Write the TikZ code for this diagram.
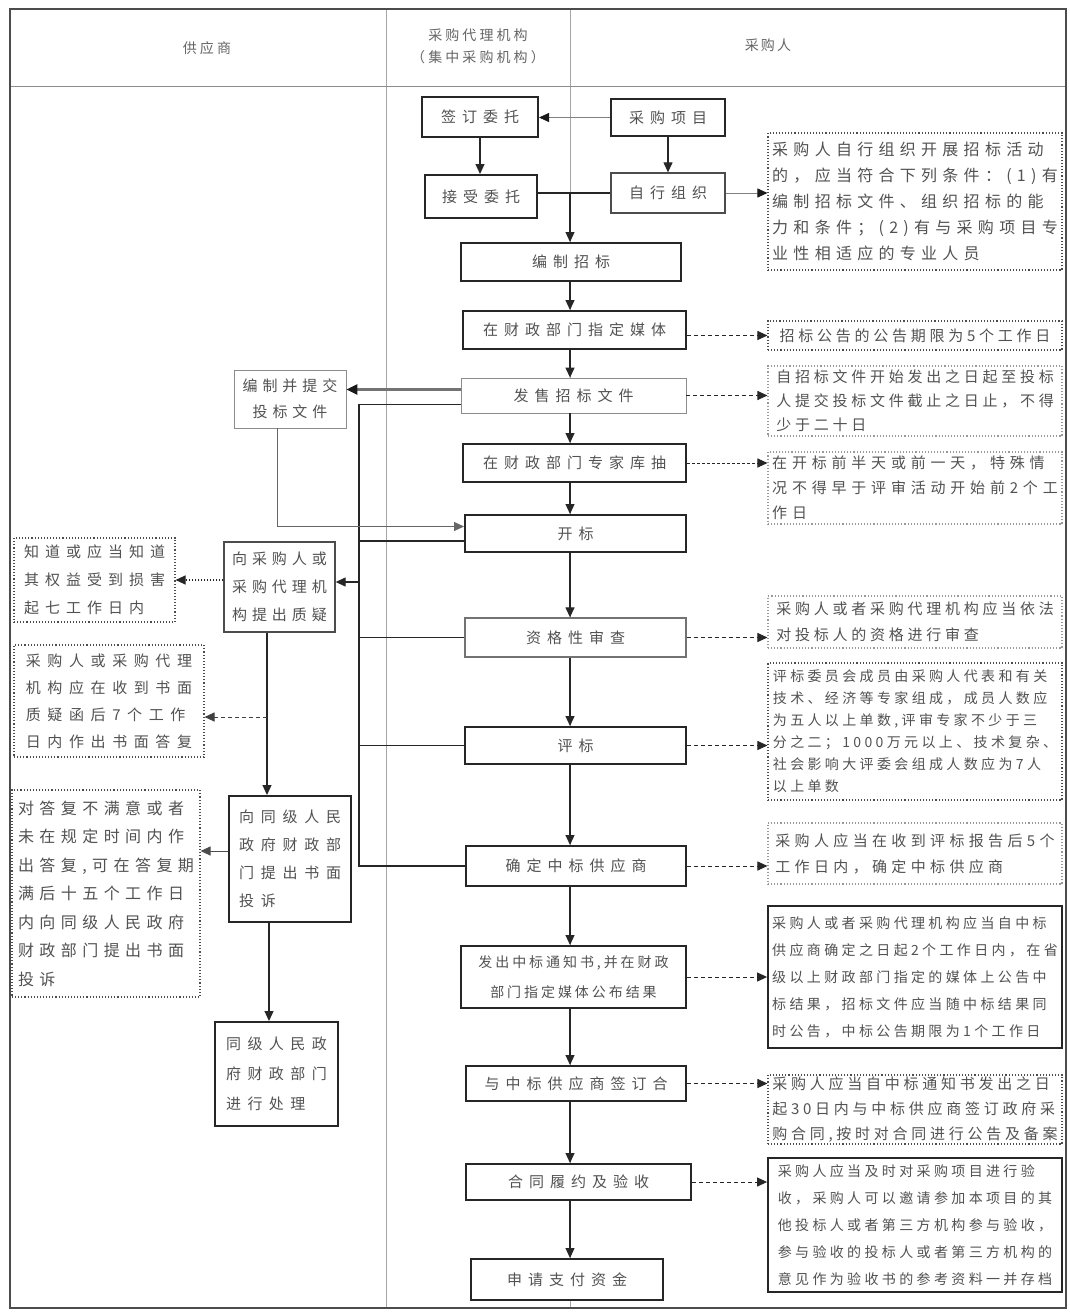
\documentclass[tikz,border=0pt]{standalone}
\usepackage{fontspec}
\setmainfont{Noto Sans CJK SC}
\usetikzlibrary{arrows.meta}
\newcommand\ft[3]{\fontsize{#1}{#2}\selectfont\addfontfeature{LetterSpace=#3}}
\tikzset{
  base/.style={inner sep=0pt, text=black!68, align=center, fill=white},
  bk/.style={base, draw=black!85, line width=2pt, font=\ft{15}{28}{40}},
  bm/.style={base, draw=black!70, line width=1.3pt, font=\ft{15}{28}{40}},
  bt/.style={base, draw=black!45, line width=0.8pt, font=\ft{15}{28}{40}},
  nd/.style={inner sep=0pt, text=black!68, draw=black!70, dotted, line width=1.1pt, align=left, fill=white},
  ndl/.style={nd, draw=black!40},
  ns/.style={inner sep=0pt, text=black!68, draw=black!85, line width=1.8pt, align=left, fill=white},
  hd/.style={inner sep=0pt, text=black!60, align=center, font=\ft{14}{22}{22}},
  arr/.style={draw=black!85, line width=1.2pt, -{Triangle[length=10pt,width=9pt]}},
  arrt/.style={draw=black!50, line width=0.8pt, -{Triangle[length=10pt,width=9pt,color=black!90]}},
  darr/.style={arr, line width=1pt, dash pattern=on 4pt off 3pt},
  dotarr/.style={arr, line width=1.1pt, dash pattern=on 1.5pt off 1.5pt},
  ln/.style={draw=black!85, line width=1.3pt},
  dbl/.style={draw=black!55, line width=2.4pt, -{Triangle[length=11pt,width=10pt,color=black!90]}},
}
\begin{document}
\begin{tikzpicture}[x=1pt,y=-1pt]
\useasboundingbox (0,0) rectangle (1070,1314);
\fill[white] (0,0) rectangle (1070,1314);
% frame and lanes
\draw[black!35, line width=1pt] (386,9) -- (386,1308);
\draw[black!35, line width=1pt] (570,9) -- (570,1308);
\draw[black!45, line width=1pt] (10,86) -- (1066,86);
\draw[black!70, line width=2pt] (10,9) rectangle (1066,1308);
\node[hd] (h1) at (207,48) {供应商};
\node[hd] (h2) at (478,46) {采购代理机构\\（集中采购机构）};
\node[hd, font=\ft{14}{22}{15}] (h3) at (768,45) {采购人};
\coordinate (colx) at (570,0);
\coordinate (bus) at (359,0);

% main boxes
\node[bk, minimum width=116, minimum height=40] (qd) at (480,117) {签订委托};
\node[bk, minimum width=114, minimum height=37] (cgxm) at (668,117.5) {采购项目};
\node[bk, minimum width=112, minimum height=43] (jswt) at (481,196.5) {接受委托};
\node[bm, minimum width=114, minimum height=40] (zxzz) at (668,193) {自行组织};
\node[bk, minimum width=220, minimum height=38] (bzzb) at (571,262) {编制招标};
\node[bk, minimum width=223, minimum height=38] (mt) at (574.5,330) {在财政部门指定媒体};
\node[bt, minimum width=225, minimum height=35] (fs) at (573.5,395.5) {发售招标文件};
\node[bt, minimum width=112, minimum height=58, font=\ft{15}{26}{33}] (tb) at (290,399) {编制并提交\\投标文件};
\node[bk, minimum width=223, minimum height=38] (zj) at (574.5,463) {在财政部门专家库抽};
\node[bk, minimum width=221, minimum height=37] (kb) at (575.5,533.5) {开标};
\node[bm, minimum width=111, minimum height=90, align=left, font=\ft{15}{28}{33}] (zy) at (279.5,587) {向采购人或\\采购代理机\\构提出质疑};
\node[bm, draw=black!55, minimum width=221, minimum height=39] (zg) at (575.5,637.5) {资格性审查};
\node[bk, minimum width=221, minimum height=37] (pb) at (575.5,745.5) {评标};
\node[bk, minimum width=122, minimum height=126, align=left, font=\ft{15}{28}{45}] (ts) at (290,859) {向同级人民\\政府财政部\\门提出书面\\投诉};
\node[bk, minimum width=123, minimum height=104, align=left, font=\ft{15}{30}{43}] (cl) at (276.5,1074) {同级人民政\\府财政部门\\进行处理};
\node[bk, minimum width=220, minimum height=40] (qdzb) at (576,866) {确定中标供应商};
\node[bk, minimum width=225, minimum height=62, font=\ft{14}{30}{21}] (fc) at (573.5,977) {发出中标通知书,并在财政\\部门指定媒体公布结果};
\node[bk, minimum width=220, minimum height=35] (qht) at (576,1083.5) {与中标供应商签订合};
\node[bk, minimum width=225, minimum height=36] (ly) at (578.5,1182) {合同履约及验收};
\node[bk, minimum width=192, minimum height=41] (sq) at (567,1279.5) {申请支付资金};

% notes
\node[nd, minimum width=294, minimum height=137, font=\ft{16}{26}{33}] (n1) at (915,201.5) {采购人自行组织开展招标活动\\的，应当符合下列条件：(1)有\\编制招标文件、组织招标的能\\力和条件；(2)有与采购项目专\\业性相适应的专业人员};
\node[nd, minimum width=294, minimum height=29, font=\ft{15}{24}{25}] (n2) at (915,335.5) {招标公告的公告期限为5个工作日};
\node[ndl, minimum width=294, minimum height=70, font=\ft{15}{24}{25}] (n3) at (915,401) {自招标文件开始发出之日起至投标\\人提交投标文件截止之日止，不得\\少于二十日};
\node[ndl, minimum width=294, minimum height=72, font=\ft{15}{25}{32}] (n4) at (915,488) {在开标前半天或前一天，特殊情\\况不得早于评审活动开始前2个工\\作日};
\node[nd, minimum width=161, minimum height=84, font=\ft{15}{28}{40}] (n5) at (94.5,580) {知道或应当知道\\其权益受到损害\\起七工作日内};
\node[nd, minimum width=190, minimum height=112, font=\ft{15}{27}{44}] (n6) at (109,701) {采购人或采购代理\\机构应在收到书面\\质疑函后7个工作\\日内作出书面答复};
\node[ndl, minimum width=294, minimum height=52, font=\ft{15}{26}{25}] (n7) at (915,622) {采购人或者采购代理机构应当依法\\对投标人的资格进行审查};
\node[nd, minimum width=294, minimum height=137, font=\ft{14}{22}{24}] (n8) at (915,731.5) {评标委员会成员由采购人代表和有关\\技术、经济等专家组成，成员人数应\\为五人以上单数,评审专家不少于三\\分之二；1000万元以上、技术复杂、\\社会影响大评委会组成人数应为7人\\以上单数};
\node[nd, minimum width=188, minimum height=207, font=\ft{16}{28.5}{34}] (n9) at (106,893.5) {对答复不满意或者\\未在规定时间内作\\出答复,可在答复期\\满后十五个工作日\\内向同级人民政府\\财政部门提出书面\\投诉};
\node[ndl, minimum width=294, minimum height=61, font=\ft{15}{26}{29}] (n10) at (915,853.5) {采购人应当在收到评标报告后5个\\工作日内，确定中标供应商};
\node[ns, minimum width=294, minimum height=142, font=\ft{14}{27}{24}] (n11) at (915,977) {采购人或者采购代理机构应当自中标\\供应商确定之日起2个工作日内，在省\\级以上财政部门指定的媒体上公告中\\标结果，招标文件应当随中标结果同\\时公告，中标公告期限为1个工作日};
\node[nd, minimum width=294, minimum height=69, font=\ft{15}{25}{25}] (n12) at (915,1109.5) {采购人应当自中标通知书发出之日\\起30日内与中标供应商签订政府采\\购合同,按时对合同进行公告及备案};
\node[ns, minimum width=294, minimum height=134, font=\ft{14}{27}{24}] (n13) at (915,1225) {采购人应当及时对采购项目进行验\\收，采购人可以邀请参加本项目的其\\他投标人或者第三方机构参与验收，\\参与验收的投标人或者第三方机构的\\意见作为验收书的参考资料一并存档};

% top connectors
\draw[arrt] (cgxm.west) -- (cgxm.west -| qd.east);
\draw[arr] (qd.south) -- (qd.south |- jswt.north);
\draw[arr] (cgxm.south) -- (cgxm.south |- zxzz.north);
\draw[draw=black!85, line width=2pt] (jswt.east |- zxzz.west) -- (zxzz.west);
\draw[arr] (colx |- zxzz.west) -- (colx |- bzzb.north);
\draw[arrt] (zxzz.east) -- (zxzz.east -| n1.west);

% main column
\draw[arr] (colx |- bzzb.south) -- (colx |- mt.north);
\draw[arr] (colx |- mt.south) -- (colx |- fs.north);
\draw[arr] (colx |- fs.south) -- (colx |- zj.north);
\draw[arr] (colx |- zj.south) -- (colx |- kb.north);
\draw[arr] (colx |- kb.south) -- (colx |- zg.north);
\draw[arr] (colx |- zg.south) -- (colx |- pb.north);
\draw[arr] (colx |- pb.south) -- (colx |- qdzb.north);
\draw[arr] (colx |- qdzb.south) -- (colx |- fc.north);
\draw[arr] (colx |- fc.south) -- (colx |- qht.north);
\draw[arr] (colx |- qht.south) -- (colx |- ly.north);
\draw[arr] (colx |- ly.south) -- (colx |- sq.north);

% dashed notes
\draw[darr] (mt.east |- n2.west) -- (n2.west);
\draw[darr] (fs.east) -- (fs.east -| n3.west);
\draw[darr, dash pattern=on 2.5pt off 2.5pt] (zj.east) -- (zj.east -| n4.west);
\draw[darr] (zg.east) -- (zg.east -| n7.west);
\draw[darr] (pb.east) -- (pb.east -| n8.west);
\draw[darr] (qdzb.east) -- (qdzb.east -| n10.west);
\draw[darr] (fc.east) -- (fc.east -| n11.west);
\draw[darr] (qht.east) -- (qht.east -| n12.west);
\draw[darr] (ly.east) -- (ly.east -| n13.west);

% supplier side
\coordinate (fsa) at ([yshift=6pt]fs.west);
\coordinate (fsb) at ([yshift=-9pt]fs.west);
\coordinate (kbl) at ([yshift=-7.5pt]kb.west);
\coordinate (kbu) at ([yshift=7pt]kb.west);
\coordinate (zyr) at ([yshift=5pt]zy.east);
\coordinate (zyl) at ([yshift=7pt]zy.west);
\coordinate (zyd) at ([xshift=-12.5pt]zy.south);
\coordinate (tbd) at ([xshift=-13pt]tb.south);
\coordinate (tsl) at ([yshift=8pt]ts.west);
\coordinate (tsd) at ([xshift=-21pt]ts.south);
\coordinate (jn) at (267,717);
\draw[dbl] (fsa) -- (fsa -| tb.east);
\draw[ln] (fsb) -| (bus |- qdzb.west) -- (qdzb.west);
\draw[ln] (bus |- kbl) -- (kbl);
\draw[ln] (bus |- zg.west) -- (zg.west);
\draw[ln] (bus |- pb.west) -- (pb.west);
\draw[arr] (bus |- zyr) -- (zyr);
\draw[arr, draw=black!60, line width=1pt] (tbd) |- (kbu);
\draw[dotarr] (zyl) -- (zyl -| n5.east);
\draw[arr] (zyd) -- (zyd |- ts.north);
\draw[darr, draw=black!75, line width=1pt] (jn) -- (jn -| n6.east);
\draw[arr, draw=black!70, line width=1pt] (tsl) -- (tsl -| n9.east);
\draw[arr] (tsd) -- (tsd |- cl.north);
\end{tikzpicture}
\end{document}
